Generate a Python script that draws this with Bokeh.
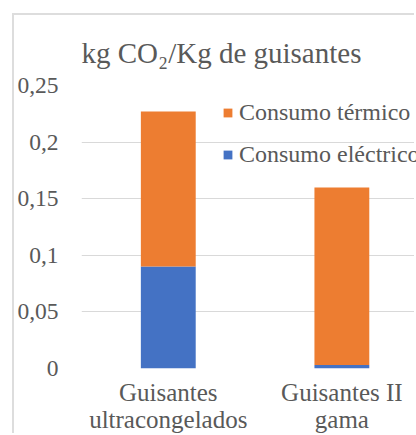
from bokeh.plotting import figure
from bokeh.models import Range1d, FixedTicker, Legend, LegendItem, ColumnDataSource
from bokeh.embed import file_html
from bokeh.resources import INLINE

# ---- data ----
categories = ["Guisantes\nultracongelados", "Guisantes II\ngama"]
electrico = [0.090, 0.003]
termico = [0.137, 0.157]
series_names = ["Consumo eléctrico", "Consumo térmico"]
y_ticks = [0, 0.05, 0.1, 0.15, 0.2, 0.25]
y_tick_labels = ["0", "0,05", "0,1", "0,15", "0,2", "0,25"]
title_text = "kg CO₂/Kg de guisantes"

BLUE = "#4472C4"
ORANGE = "#ED7D31"
TXT = "#595959"
GRID = "#D9D9D9"
FONT = "serif"

xs = list(range(len(categories)))
src = ColumnDataSource(dict(x=xs, el=electrico, th=termico))

p = figure(width=402, height=420, output_backend="svg", toolbar_location=None,
           x_range=Range1d(-0.5, 1.43), y_range=Range1d(0, 0.25),
           min_border_left=66, min_border_right=0, min_border_top=70, min_border_bottom=66,
           styles={"margin-left": "12px", "margin-top": "13px",
                   "border-left": "2px solid #DDDDDD", "border-top": "2px solid #DDDDDD"})
p.outline_line_color = None
p.background_fill_color = "white"
p.border_fill_color = "white"

rs = p.vbar_stack(["el", "th"], x="x", width=0.316, color=[BLUE, ORANGE], line_color=None, source=src)

# title
p.title.text = title_text
p.title.text_font = FONT
p.title.text_font_size = "29px"
p.title.text_font_style = "normal"
p.title.text_color = TXT
p.title.align = "left"
p.title.standoff = 34

# axes
for ax in (p.xaxis[0], p.yaxis[0]):
    ax.axis_line_color = None
    ax.major_tick_line_color = None
    ax.minor_tick_line_color = None
    ax.major_tick_out = 0
    ax.major_tick_in = 0
    ax.major_label_text_font = FONT
    ax.major_label_text_font_style = "normal"
    ax.major_label_text_color = TXT

xax = p.xaxis[0]
xax.ticker = FixedTicker(ticks=xs)
xax.major_label_overrides = {i: c for i, c in zip(xs, categories)}
xax.major_label_standoff = 10
xax.major_label_text_font_size = "25px"
xax.major_label_text_line_height = 1.0

yax = p.yaxis[0]
yax.ticker = FixedTicker(ticks=y_ticks)
yax.major_label_overrides = {t: l for t, l in zip(y_ticks, y_tick_labels)}
yax.major_label_standoff = 23
yax.major_label_text_font_size = "23.5px"

p.xgrid.grid_line_color = None
p.ygrid.grid_line_color = GRID
p.ygrid.grid_line_width = 1.2

legend = Legend(items=[LegendItem(label=series_names[1], renderers=[rs[1]]),
                       LegendItem(label=series_names[0], renderers=[rs[0]])],
                location=(141, 200), padding=0, margin=0, spacing=14,
                glyph_width=11, glyph_height=11, label_height=28, label_standoff=6,
                label_text_font=FONT, label_text_font_size="24px", label_text_font_style="normal",
                label_text_color=TXT,
                border_line_color=None, background_fill_alpha=0)
p.add_layout(legend)

open("out.html", "w").write(file_html(p, INLINE))
